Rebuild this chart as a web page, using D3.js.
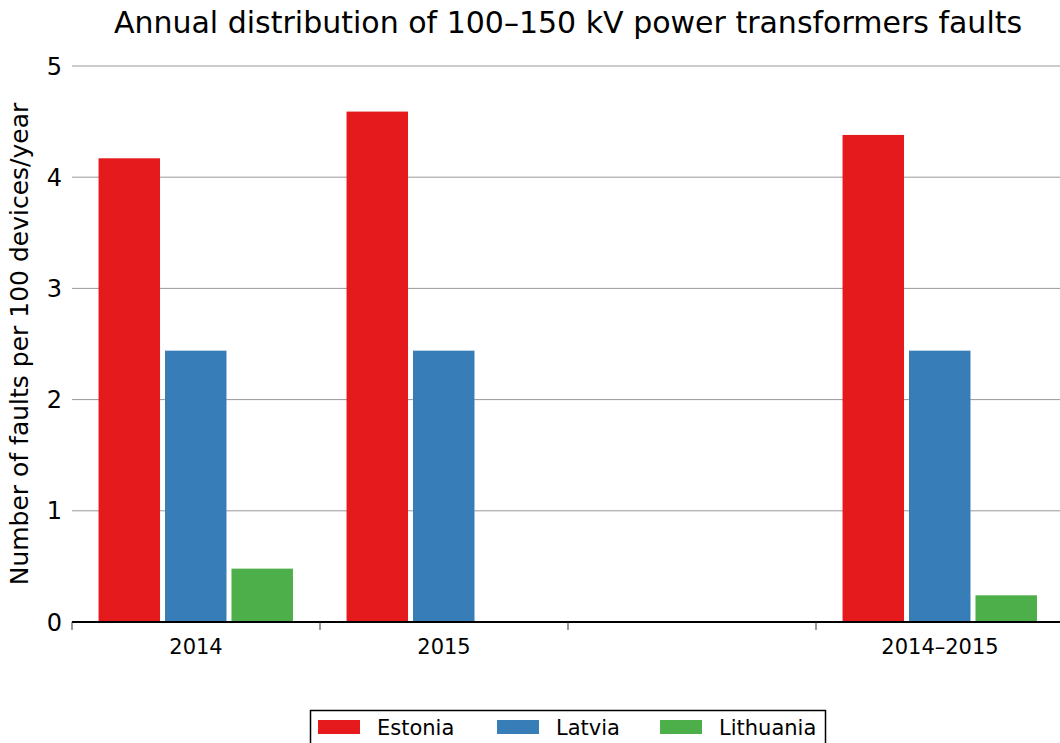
<!DOCTYPE html>
<html>
<head>
<meta charset="utf-8">
<script src="https://cdn.jsdelivr.net/npm/d3@7"></script>
<style>
  html, body { margin: 0; padding: 0; background: #fff; }
  svg { display: block; font-family: "DejaVu Sans", sans-serif; }
</style>
</head>
<body>
<svg id="chart" width="1060" height="743"></svg>
<script>
// Fault rates per 100 devices per year, 100–150 kV transformers
const categories = ["2014", "2015", "", "2014–2015"];
const countries = ["Estonia", "Latvia", "Lithuania"];
const estonia   = [4.17, 4.59, null, 4.38];
const latvia    = [2.44, 2.44, null, 2.44];
const lithuania = [0.48, 0,    null, 0.24];
const colors = ["#e41a1c", "#377eb8", "#4daf4a"];
const yTicks = [0, 1, 2, 3, 4, 5];

const series = [estonia, latvia, lithuania];
const svg = d3.select("#chart");

const plot = { left: 72, right: 1064, top: 66, bottom: 622 };

const x0 = d3.scaleBand().domain(categories).range([plot.left, plot.right]).padding(0);
const x1 = d3.scaleBand().domain(countries)
  .range([x0.bandwidth() * 0.107, x0.bandwidth() * 0.891])
  .paddingInner(0.075).paddingOuter(0);
const y = d3.scaleLinear().domain([0, 5]).range([plot.bottom, plot.top]);

// horizontal grid lines
svg.append("g").selectAll("line").data(yTicks).join("line")
  .attr("x1", plot.left).attr("x2", 1060)
  .attr("y1", d => y(d)).attr("y2", d => y(d))
  .attr("stroke", "#999").attr("stroke-width", 1);

// y tick labels
svg.append("g").selectAll("text").data(yTicks).join("text")
  .attr("x", 62).attr("y", d => y(d)).attr("dy", "0.36em")
  .attr("text-anchor", "end").attr("font-size", 24).attr("fill", "#000")
  .text(d => d);

// bars
const rows = [];
categories.forEach((c, i) => {
  countries.forEach((k, j) => {
    const v = series[j][i];
    if (v !== null && v > 0) rows.push({ cat: c, country: k, value: v, color: colors[j] });
  });
});
svg.append("g").selectAll("rect").data(rows).join("rect")
  .attr("x", d => x0(d.cat) + x1(d.country))
  .attr("width", x1.bandwidth())
  .attr("y", d => y(d.value))
  .attr("height", d => y(0) - y(d.value))
  .attr("fill", d => d.color);

// x axis line, ticks at band edges, labels at band centres
svg.append("line")
  .attr("x1", plot.left).attr("x2", 1060)
  .attr("y1", y(0)).attr("y2", y(0))
  .attr("stroke", "#000").attr("stroke-width", 2);
svg.append("g").selectAll("line").data(categories).join("line")
  .attr("x1", d => x0(d)).attr("x2", d => x0(d))
  .attr("y1", y(0)).attr("y2", y(0) + 8)
  .attr("stroke", "#333").attr("stroke-width", 1);
svg.append("g").selectAll("text").data(categories).join("text")
  .attr("x", d => x0(d) + x0.bandwidth() / 2)
  .attr("y", y(0) + 32)
  .attr("text-anchor", "middle").attr("font-size", 21).attr("fill", "#000")
  .text(d => d);

// title
svg.append("text")
  .attr("x", (plot.left + plot.right) / 2).attr("y", 33)
  .attr("text-anchor", "middle").attr("font-size", 30).attr("fill", "#000")
  .text("Annual distribution of 100–150 kV power transformers faults");

// y axis title
svg.append("text")
  .attr("transform", `translate(28, ${(plot.top + plot.bottom) / 2}) rotate(-90)`)
  .attr("text-anchor", "middle").attr("font-size", 25).attr("fill", "#000")
  .text("Number of faults per 100 devices/year");

// legend
const legend = svg.append("g");
legend.append("rect")
  .attr("x", 310.5).attr("y", 710.5).attr("width", 515).attr("height", 50)
  .attr("fill", "#fff").attr("stroke", "#000").attr("stroke-width", 1.5);
const legendX = [318, 497, 660];
countries.forEach((k, j) => {
  legend.append("rect")
    .attr("x", legendX[j]).attr("y", 720).attr("width", 42).attr("height", 14)
    .attr("fill", colors[j]);
  legend.append("text")
    .attr("x", legendX[j] + 59).attr("y", 735)
    .attr("font-size", 21).attr("fill", "#000")
    .text(k);
});
</script>
</body>
</html>
